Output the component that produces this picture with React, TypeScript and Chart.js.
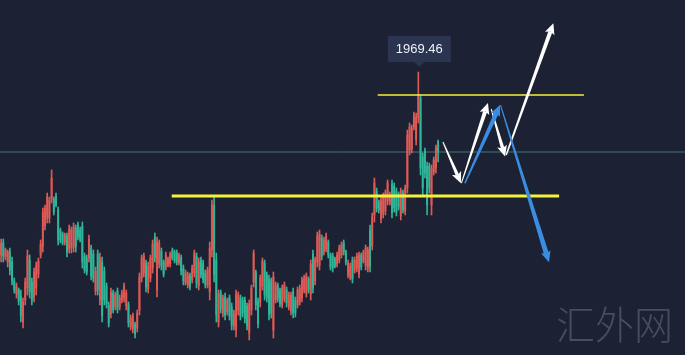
import React, { useEffect, useRef } from "react";
import { Chart, registerables } from "chart.js";

Chart.register(...registerables);

// ---- Candle data ----
const opens = [
  1878, 1884, 1877, 1874.5, 1879.5, 1874.5, 1865, 1858.5, 1860.5, 1857.5,
  1844.5, 1855.5, 1861.5, 1875.5, 1864.5, 1857, 1861.5, 1868.5, 1878, 1882.5,
  1892.5, 1896.5, 1896.5, 1906, 1906, 1907.5, 1900.5, 1890.5, 1888.5, 1884.5,
  1887.5, 1881, 1881.5, 1882, 1891.5, 1893, 1890.5, 1892.5, 1877.5, 1876.5,
  1876.5, 1881.5, 1878.5, 1860, 1878.5, 1855.5, 1874.5, 1870, 1862.5, 1853,
  1848.5, 1859, 1852, 1860, 1852, 1855.5, 1856.5, 1852.5, 1853, 1842,
  1841, 1843.5, 1841.5, 1850.5, 1866.5, 1869, 1874, 1861, 1866.5, 1871.5,
  1887, 1860.5, 1873.5, 1880, 1874.5, 1872, 1873, 1873.5, 1880.5, 1879.5,
  1879, 1874, 1876.5, 1871.5, 1864, 1863, 1867.5, 1865.5, 1869, 1877.5,
  1862.5, 1875.5, 1874, 1869, 1863, 1859.5, 1880.5, 1903, 1875.5, 1844.5,
  1859, 1849, 1857, 1849.5, 1856.5, 1852, 1842.5, 1840.5, 1850.5, 1856.5,
  1855.5, 1855.5, 1852.5, 1839, 1850.5, 1864.5, 1869, 1855, 1854.5, 1862.5,
  1874, 1868, 1866, 1865, 1840.5, 1855.5, 1862.5, 1860.5, 1853, 1856,
  1860.5, 1852, 1850, 1859.5, 1855.5, 1853, 1854.5, 1856.5, 1860.5, 1859,
  1866, 1858.5, 1878.5, 1865, 1874.5, 1873, 1886.5, 1879.5, 1881, 1884.5,
  1878, 1877.5, 1876, 1873.5, 1875.5, 1878, 1884, 1879.5, 1868, 1867,
  1875.5, 1870.5, 1871.5, 1868.5, 1878, 1875, 1872.5, 1871.5, 1890.5, 1882.5,
  1898, 1910, 1904.5, 1896, 1898.5, 1900, 1905, 1904, 1913.5, 1912.5,
  1910, 1908.5, 1897.5, 1909, 1900, 1911.5, 1930.5, 1931, 1942, 1935.5,
  1946.5, 1956.5, 1927, 1930, 1922.5, 1922.5, 1903, 1919.5, 1921.5, 1934.5,
];
const highs = [
  1886, 1886, 1881.5, 1880.5, 1881.5, 1877, 1866.5, 1864, 1861.5, 1860.5,
  1856.5, 1866.5, 1880.5, 1878, 1866.5, 1871.5, 1874.5, 1876.5, 1885.5, 1901.5,
  1903, 1909, 1907, 1920.5, 1907, 1909, 1902, 1891.5, 1889.5, 1889,
  1889, 1893, 1892, 1894, 1893, 1894.5, 1892, 1894.5, 1879, 1878,
  1888, 1883, 1880.5, 1872, 1880.5, 1879, 1877, 1872, 1864, 1854.5,
  1861.5, 1860.5, 1859.5, 1861.5, 1858, 1860.5, 1864, 1860.5, 1854.5, 1848,
  1849, 1844.5, 1850.5, 1869, 1878, 1879, 1875.5, 1874.5, 1878, 1885.5,
  1889, 1887, 1885.5, 1881.5, 1875.5, 1879.5, 1877, 1879.5, 1881.5, 1880.5,
  1880.5, 1879, 1878, 1873, 1870.5, 1869.5, 1869, 1873, 1880.5, 1879,
  1876.5, 1877, 1875.5, 1870.5, 1872, 1884.5, 1905.5, 1907, 1879, 1860.5,
  1860.5, 1858, 1859, 1856.5, 1858, 1854, 1850.5, 1860.5, 1859.5, 1858,
  1857, 1857, 1854, 1855.5, 1863, 1880.5, 1870.5, 1856.5, 1868, 1876.5,
  1875.5, 1869.5, 1868, 1866.5, 1869.5, 1864.5, 1864, 1861.5, 1863, 1864.5,
  1862, 1859.5, 1859.5, 1861.5, 1857, 1862, 1863, 1867, 1868, 1869,
  1867, 1875.5, 1880.5, 1877, 1889.5, 1890.5, 1888, 1887, 1889, 1885.5,
  1879, 1879, 1877, 1879.5, 1883, 1884.5, 1885.5, 1880.5, 1875.5, 1874,
  1877, 1877, 1879, 1879.5, 1879, 1880.5, 1883, 1882, 1893, 1899,
  1916.5, 1911.5, 1905.5, 1907, 1909, 1910.5, 1915.5, 1909.5, 1915.5, 1914,
  1911.5, 1909.5, 1911.5, 1910.5, 1913, 1940.5, 1944, 1943, 1949.5, 1949,
  1969.46, 1958, 1929, 1931.5, 1924.5, 1924, 1923, 1927, 1933, 1935.5,
];
const lows = [
  1874.5, 1874.5, 1875.5, 1872, 1868, 1863, 1859, 1856.5, 1853, 1844.5,
  1841.5, 1853, 1858, 1856.5, 1853, 1854.5, 1858, 1866.5, 1876.5, 1879.5,
  1890.5, 1894, 1894, 1904, 1898, 1902, 1883, 1884, 1883, 1883,
  1877, 1879, 1879, 1879.5, 1879.5, 1885.5, 1884.5, 1871.5, 1869, 1868,
  1874.5, 1865.5, 1864.5, 1858, 1858, 1853, 1844.5, 1853, 1851.5, 1842,
  1846.5, 1849, 1850.5, 1849, 1850.5, 1854, 1854.5, 1850.5, 1842, 1840.5,
  1839, 1836.5, 1839.5, 1848, 1864.5, 1867, 1859.5, 1859, 1864.5, 1869,
  1874.5, 1857, 1871.5, 1870.5, 1867, 1870.5, 1872, 1872, 1875.5, 1874,
  1873, 1873, 1868, 1863, 1863, 1861.5, 1860.5, 1864, 1867, 1861.5,
  1860.5, 1866.5, 1864, 1861.5, 1861.5, 1855.5, 1877, 1864.5, 1844.5, 1842,
  1849, 1847, 1845.5, 1848, 1845.5, 1840.5, 1840.5, 1837, 1848, 1845.5,
  1847, 1844, 1840.5, 1835.5, 1848, 1862, 1850.5, 1841.5, 1852, 1860.5,
  1855.5, 1854.5, 1845.5, 1846.5, 1836.5, 1854, 1854.5, 1852, 1851.5, 1854.5,
  1852, 1850.5, 1848, 1846.5, 1847, 1851.5, 1853, 1854.5, 1859, 1857,
  1859, 1855.5, 1859, 1863, 1872, 1870.5, 1875.5, 1878, 1879.5, 1876.5,
  1870.5, 1869.5, 1871.5, 1872, 1874, 1876.5, 1878, 1873, 1866.5, 1865.5,
  1864, 1869, 1869.5, 1866.5, 1870.5, 1874, 1870.5, 1869.5, 1869.5, 1880.5,
  1894.5, 1899.5, 1899, 1894, 1896.5, 1898, 1903, 1903, 1896.5, 1899.5,
  1897.5, 1900.5, 1895.5, 1899, 1898, 1909, 1928, 1929, 1940.5, 1933,
  1944, 1918, 1908, 1916.5, 1898, 1909, 1898, 1918, 1919, 1924.5,
];
const closes = [
  1884, 1877.5, 1880.5, 1879.5, 1870.5, 1865, 1860.5, 1862.5, 1855, 1847.5,
  1854.5, 1864.5, 1877.5, 1859.5, 1855.5, 1869.5, 1872.5, 1875, 1883.5, 1899.5,
  1901.5, 1907, 1905.5, 1916.5, 1899.5, 1903, 1885.5, 1885.5, 1884, 1888,
  1879.5, 1891, 1890.5, 1892, 1882, 1887, 1886, 1874.5, 1870.5, 1869.5,
  1886, 1867.5, 1866.5, 1870, 1860.5, 1876.5, 1847.5, 1855.5, 1853.5, 1844,
  1859.5, 1850.5, 1858, 1851, 1856.5, 1859, 1862.5, 1859, 1844, 1846.5,
  1847.5, 1838.5, 1849, 1867, 1876.5, 1877.5, 1862, 1872.5, 1876.5, 1883.5,
  1876.5, 1884.5, 1884, 1872.5, 1868.5, 1878, 1876, 1878.5, 1876.5, 1875,
  1874.5, 1878, 1870, 1865, 1869, 1868, 1862, 1871.5, 1879, 1864,
  1874.5, 1868, 1865.5, 1863, 1870.5, 1881.5, 1903, 1868, 1848, 1858.5,
  1851, 1856.5, 1848, 1855.5, 1847.5, 1843, 1849, 1858.5, 1858, 1847.5,
  1849, 1846, 1842.5, 1853.5, 1861.5, 1879, 1853, 1843.5, 1866.5, 1875,
  1858, 1856.5, 1848.5, 1849, 1867, 1863, 1856.5, 1853.5, 1861.5, 1863,
  1854, 1858, 1858, 1849, 1849, 1860.5, 1861.5, 1865.5, 1866.5, 1867.5,
  1860.5, 1873.5, 1861.5, 1875.5, 1887.5, 1888.5, 1877.5, 1885.5, 1887.5, 1878,
  1872, 1871.5, 1872.5, 1878, 1881.5, 1883, 1879.5, 1874.5, 1874, 1872.5,
  1866, 1875.5, 1877.5, 1878, 1872, 1879.5, 1881.5, 1880.5, 1872.5, 1897,
  1914, 1901.5, 1900.5, 1905.5, 1907.5, 1909, 1914, 1908.5, 1899, 1901.5,
  1899.5, 1902, 1910, 1900.5, 1911.5, 1938, 1942, 1941.5, 1948, 1947,
  1958, 1921.5, 1911.5, 1919, 1903, 1911.5, 1921.5, 1925.5, 1931.5, 1929.5,
];

// ---- Drawn levels (price, start index, end index) ----
const upperLevel = { price: 1958, from: 171.5, to: 265.4 };
const lowerLevel = { price: 1907.5, from: 77.7, to: 254.1 };

// ---- Forecast arrows ([index, price] pairs) ----
const whiteArrows = [
  { from: [201.2, 1934.5], to: [209.4, 1913.9], w0: 1, w1: 3.5 },
  { from: [209.6, 1913.9], to: [221.7, 1954], w0: 1, w1: 4 },
  { from: [223.2, 1951], to: [229.5, 1927.2], w0: 1, w1: 3.5 },
  { from: [230.0, 1928], to: [251.5, 1993.9], w0: 1.5, w1: 4 },
];
const blueArrows = [
  { from: [211.2, 1913.9], to: [227.2, 1953], w0: 1.5, w1: 4.5 },
  { from: [227.4, 1953], to: [249.5, 1874.4], w0: 1, w1: 5 },
];

const watermark = "汇外网";

const X_MIN = -0.5;
const X_MAX = 311.43;
const Y_MIN = 1828;
const Y_MAX = 2005.5;

const BG = "#1c2234";
const UP = "#dd5a55";
const DOWN = "#2fb597";
const YELLOW = "#f3f23c";
const PRICE_LINE = "#3b7877";
const WHITE = "#ffffff";
const BLUE = "#3a8de0";

function drawArrow(
  ctx: CanvasRenderingContext2D,
  p0: number[],
  p1: number[],
  w0: number,
  w1: number,
  color: string
) {
  const dx = p1[0] - p0[0];
  const dy = p1[1] - p0[1];
  const len = Math.hypot(dx, dy);
  const ux = dx / len;
  const uy = dy / len;
  const nx = -uy;
  const ny = ux;
  const headL = 11;
  const headW = 10;
  const sx = p1[0] - ux * headL * 0.8;
  const sy = p1[1] - uy * headL * 0.8;
  const hx = p1[0] - ux * headL;
  const hy = p1[1] - uy * headL;
  ctx.fillStyle = color;
  ctx.beginPath();
  ctx.moveTo(p0[0] + (nx * w0) / 2, p0[1] + (ny * w0) / 2);
  ctx.lineTo(sx + (nx * w1) / 2, sy + (ny * w1) / 2);
  ctx.lineTo(sx - (nx * w1) / 2, sy - (ny * w1) / 2);
  ctx.lineTo(p0[0] - (nx * w0) / 2, p0[1] - (ny * w0) / 2);
  ctx.closePath();
  ctx.fill();
  ctx.beginPath();
  ctx.moveTo(p1[0], p1[1]);
  ctx.lineTo(hx + (nx * headW) / 2, hy + (ny * headW) / 2);
  ctx.lineTo(sx, sy);
  ctx.lineTo(hx - (nx * headW) / 2, hy - (ny * headW) / 2);
  ctx.closePath();
  ctx.fill();
}

const annotationPlugin = {
  id: "annotations",
  afterDatasetsDraw(chart: any) {
    const { ctx, scales } = chart;
    const xs = scales.x;
    const ys = scales.y;
    const px = (p: number[]) => [xs.getPixelForValue(p[0]), ys.getPixelForValue(p[1])];
    ctx.save();
    whiteArrows.forEach((a) => drawArrow(ctx, px(a.from), px(a.to), a.w0, a.w1, WHITE));
    blueArrows.forEach((a) => drawArrow(ctx, px(a.from), px(a.to), a.w0, a.w1, BLUE));

    // peak label
    const peak = Math.max(...highs);
    const pi = highs.indexOf(peak);
    const hx = xs.getPixelForValue(pi) + 1;
    const hy = ys.getPixelForValue(peak);
    const label = peak.toFixed(2);
    ctx.font = '13px "Liberation Sans", Arial, sans-serif';
    const tw = ctx.measureText(label).width;
    const bw = tw + 16;
    const bh = 26;
    const bx = hx - bw / 2;
    const by = hy - 10 - bh;
    ctx.fillStyle = "#2b3450";
    ctx.fillRect(bx, by, bw, bh);
    ctx.beginPath();
    ctx.moveTo(hx - 5, by + bh);
    ctx.lineTo(hx + 5, by + bh);
    ctx.lineTo(hx, by + bh + 5);
    ctx.closePath();
    ctx.fill();
    ctx.fillStyle = "#eef1f7";
    ctx.textAlign = "center";
    ctx.textBaseline = "middle";
    ctx.fillText(label, hx, by + bh / 2 + 0.5);

    // watermark
    const area = chart.chartArea;
    ctx.font = '300 39px "Noto Sans CJK SC", sans-serif';
    ctx.fillStyle = "#454d61";
    ctx.textAlign = "right";
    ctx.textBaseline = "middle";
    ctx.fillText(watermark, area.right - 12, area.bottom - 31);
    ctx.restore();
  },
};

export default function App() {
  const ref = useRef<HTMLCanvasElement>(null);

  useEffect(() => {
    const idx = highs.map((_, i) => i);
    const colors = idx.map((i) => (closes[i] >= opens[i] ? UP : DOWN));
    const last = closes[closes.length - 1];
    const chart = new Chart(ref.current as HTMLCanvasElement, {
      type: "bar",
      data: {
        datasets: [
          {
            type: "line",
            data: [
              { x: X_MIN, y: last },
              { x: X_MAX, y: last },
            ],
            borderColor: PRICE_LINE,
            borderWidth: 1,
            pointRadius: 0,
            order: 6,
          } as any,
          {
            type: "bar",
            data: idx.map((i) => ({ x: i, y: [lows[i], highs[i]] })),
            backgroundColor: colors,
            barThickness: 1,
            grouped: false,
            order: 5,
          } as any,
          {
            type: "bar",
            data: idx.map((i) => ({ x: i, y: [opens[i], closes[i]] })),
            backgroundColor: colors,
            barThickness: 1.3,
            grouped: false,
            order: 4,
          } as any,
          {
            type: "line",
            data: [
              { x: upperLevel.from, y: upperLevel.price },
              { x: upperLevel.to, y: upperLevel.price },
            ],
            borderColor: YELLOW,
            borderWidth: 1.3,
            pointRadius: 0,
            order: 1,
          } as any,
          {
            type: "line",
            data: [
              { x: lowerLevel.from, y: lowerLevel.price },
              { x: lowerLevel.to, y: lowerLevel.price },
            ],
            borderColor: YELLOW,
            borderWidth: 3,
            pointRadius: 0,
            order: 1,
          } as any,
        ],
      },
      options: {
        animation: false,
        responsive: false,
        events: [],
        layout: { padding: 0 },
        plugins: { legend: { display: false }, tooltip: { enabled: false } },
        scales: {
          x: { type: "linear", min: X_MIN, max: X_MAX, display: false, offset: false },
          y: { type: "linear", min: Y_MIN, max: Y_MAX, display: false },
        },
      } as any,
      plugins: [annotationPlugin],
    });
    return () => chart.destroy();
  }, []);

  return (
    <div
      style={{
        position: "fixed",
        left: 0,
        top: 0,
        width: 685,
        height: 355,
        background: BG,
      }}
    >
      <canvas ref={ref} width={685} height={355} style={{ display: "block" }} />
    </div>
  );
}
